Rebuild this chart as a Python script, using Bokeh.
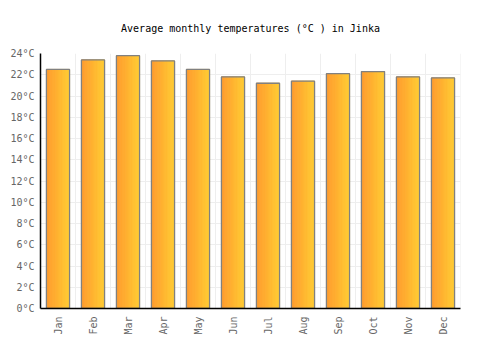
from bokeh.plotting import figure
from bokeh.models import FactorRange, Range1d, FixedTicker, PrintfTickFormatter, ColumnDataSource
from bokeh.transform import dodge
from bokeh.embed import file_html
from bokeh.resources import INLINE
import math

months = ["Jan", "Feb", "Mar", "Apr", "May", "Jun", "Jul", "Aug", "Sep", "Oct", "Nov", "Dec"]
temps = [22.5, 23.4, 23.8, 23.3, 22.5, 21.8, 21.2, 21.4, 22.1, 22.3, 21.8, 21.7]
y_ticks = list(range(0, 25, 2))

FONT = "DejaVu Sans Mono"

p = figure(width=500, height=350, x_range=FactorRange(*months, range_padding=0),
           y_range=Range1d(0, 24), output_backend="svg", toolbar_location=None,
           min_border_left=40, min_border_right=40, min_border_top=52, min_border_bottom=42)

p.title.text = "Average monthly temperatures (°C ) in Jinka"
p.title.align = "center"
p.title.text_font = FONT
p.title.text_font_size = "10px"
p.title.text_font_style = "normal"
p.title.text_color = "#000000"
p.title.standoff = 40
p.outline_line_color = None

src = ColumnDataSource(dict(month=months, temp=temps, zero=[0]*len(months), top=[24]*len(months)))

# vertical grid lines at category boundaries
p.xgrid.visible = False
p.segment(x0=dodge("month", 0.5, range=p.x_range), y0="zero",
          x1=dodge("month", 0.5, range=p.x_range), y1="top",
          source=src, line_color="#eeeeee", line_width=1)

p.ygrid.ticker = FixedTicker(ticks=y_ticks)
p.ygrid.grid_line_color = "#eeeeee"
p.ygrid.grid_line_width = 1

# gradient bars built from thin strips
bar_w = 0.66
N = 16
c0 = (255, 156, 46)
c1 = (255, 202, 51)
for k in range(N):
    t = k / (N - 1)
    col = "#%02x%02x%02x" % tuple(round(a + (b - a) * t) for a, b in zip(c0, c1))
    off = -bar_w / 2 + (k + 0.5) * bar_w / N
    p.vbar(x=dodge("month", off, range=p.x_range), top="temp", width=bar_w / N,
           source=src, fill_color=col, line_color=col, line_width=1)
p.vbar(x="month", top="temp", width=bar_w, source=src, fill_alpha=0,
       line_color="#808080", line_width=1.3)

p.yaxis.ticker = FixedTicker(ticks=y_ticks)
p.yaxis.formatter = PrintfTickFormatter(format="%d°C")
for ax in (p.xaxis[0], p.yaxis[0]):
    ax.major_tick_in = 0
    ax.major_tick_out = 0
    ax.minor_tick_in = 0
    ax.minor_tick_out = 0
    ax.axis_line_color = "#000000"
    ax.axis_line_width = 1.5
    ax.major_label_text_font = FONT
    ax.major_label_text_font_size = "10px"
    ax.major_label_text_color = "#666666"
p.yaxis.major_label_standoff = 6
p.xaxis.major_label_standoff = 8
p.xaxis.major_label_orientation = math.pi / 2

open("out.html", "w").write(file_html(p, INLINE))
